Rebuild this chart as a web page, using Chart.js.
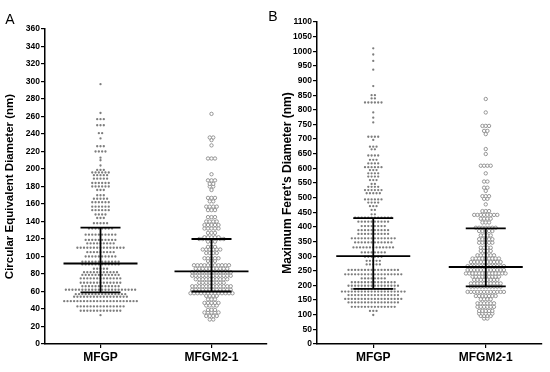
<!DOCTYPE html>
<html>
<head>
<meta charset="utf-8">
<script src="https://cdn.jsdelivr.net/npm/chart.js@4.4.1/dist/chart.umd.min.js"></script>
<style>
  body { margin: 0; background: #fff; }
  #wrap { position: relative; width: 550px; height: 372px; }
  .panel { position: absolute; top: 0; height: 372px; }
  #pa { left: 0; width: 275px; }
  #pb { left: 265px; width: 285px; }
</style>
</head>
<body>
<div id="wrap">
  <div class="panel" id="pa"><canvas id="chartA"></canvas></div>
  <div class="panel" id="pb"><canvas id="chartB"></canvas></div>
</div>
<script>
const groups = ["MFGP", "MFGM2-1"];

// panel A: circular equivalent diameter, rows of the dot plot (nm) and dots per row
const aGpLevels = [33, 38, 43, 49, 54, 57, 62, 66, 70, 75, 79, 82, 86, 91, 94, 100, 105, 110, 115, 119, 125, 132, 138, 144, 148, 153, 157, 162, 166, 170, 176, 180, 184, 189, 193, 196, 199, 204, 210, 213, 220, 226, 235, 241, 250, 257, 264, 297];
const aGpCounts = [1, 13, 15, 23, 17, 16, 22, 12, 13, 13, 12, 11, 5, 12, 12, 10, 9, 15, 9, 10, 10, 8, 5, 3, 4, 6, 6, 6, 5, 3, 3, 6, 6, 5, 5, 6, 3, 1, 1, 1, 4, 3, 1, 2, 3, 3, 1, 1];
const aM2Levels = [28, 32, 36, 39, 44, 47, 51, 55, 58, 62, 66, 70, 74, 78, 82, 86, 90, 95, 98, 104, 108, 111, 117, 120, 122, 127, 132, 136, 140, 145, 153, 157, 163, 167, 176, 180, 183, 187, 194, 212, 227, 233, 236, 263];
const aM2Counts = [2, 4, 5, 3, 4, 5, 3, 4, 13, 12, 12, 8, 10, 12, 12, 10, 11, 3, 5, 4, 6, 3, 3, 8, 5, 3, 5, 5, 4, 3, 3, 4, 2, 3, 1, 2, 2, 3, 1, 3, 1, 1, 2, 1];
const aMid = [92, 83];
const aLow = [59, 60];
const aHigh = [133, 120];

// panel B: maximum Feret's diameter
const bGpLevels = [99, 113, 127, 142, 154, 167, 179, 188, 199, 211, 224, 238, 253, 272, 284, 298, 313, 330, 347, 361, 376, 389, 403, 418, 432, 443, 458, 471, 483, 494, 515, 526, 537, 547, 560, 572, 583, 594, 604, 617, 629, 644, 665, 674, 697, 708, 757, 773, 791, 825, 839, 850, 881, 937, 967, 989, 1010];
const bGpCounts = [1, 3, 14, 16, 18, 16, 20, 14, 16, 14, 8, 18, 16, 5, 5, 6, 8, 13, 12, 14, 10, 10, 8, 10, 12, 2, 2, 3, 4, 6, 5, 6, 4, 2, 3, 4, 4, 3, 6, 4, 3, 4, 2, 3, 1, 4, 1, 1, 1, 6, 2, 2, 1, 1, 1, 1, 1];
const bM2Levels = [87, 96, 104, 113, 127, 139, 153, 164, 178, 196, 207, 219, 230, 241, 253, 266, 280, 292, 303, 318, 329, 346, 358, 371, 386, 397, 415, 428, 441, 454, 477, 496, 505, 523, 534, 555, 583, 609, 649, 666, 717, 728, 745, 791, 837];
const bM2Counts = [2, 4, 5, 5, 6, 6, 4, 7, 12, 10, 10, 8, 9, 13, 12, 12, 10, 9, 6, 4, 4, 5, 5, 4, 5, 7, 3, 4, 8, 3, 1, 2, 3, 1, 2, 2, 1, 4, 1, 1, 1, 2, 3, 1, 1];
const bMid = [300, 263];
const bLow = [188, 197];
const bHigh = [430, 395];

// spread each row sideways around the group centre, like a prism dot plot
function swarm(levels, counts, center, step) {
  const pts = [];
  levels.forEach((v, i) => {
    const n = counts[i];
    for (let k = 0; k < n; k++) {
      pts.push({ x: center + (k - (n - 1) / 2) * step, y: v });
    }
  });
  return pts;
}

const errorBars = {
  id: "errorBars",
  afterDatasetsDraw(chart, args, opts) {
    const { ctx, scales: { x, y } } = chart;
    ctx.save();
    ctx.strokeStyle = "#000";
    ctx.lineWidth = 1.8;
    opts.mid.forEach((m, i) => {
      const cx = x.getPixelForValue(i + 0.5);
      const yl = y.getPixelForValue(opts.low[i]);
      const yh = y.getPixelForValue(opts.high[i]);
      const ym = y.getPixelForValue(m);
      ctx.beginPath();
      ctx.moveTo(cx - 37, ym); ctx.lineTo(cx + 37, ym);
      ctx.moveTo(cx - 20, yl); ctx.lineTo(cx + 20, yl);
      ctx.moveTo(cx - 20, yh); ctx.lineTo(cx + 20, yh);
      ctx.moveTo(cx, yl); ctx.lineTo(cx, yh);
      ctx.stroke();
    });
    ctx.restore();
  }
};

const panelLetter = {
  id: "panelLetter",
  afterDraw(chart, args, opts) {
    const ctx = chart.ctx;
    ctx.save();
    ctx.fillStyle = "#000";
    ctx.font = "14px Arial, 'Liberation Sans', sans-serif";
    ctx.textAlign = "center";
    ctx.textBaseline = "middle";
    ctx.fillText(opts.text, opts.x, opts.y);
    ctx.restore();
  }
};

function makeChart(id, cfg) {
  return new Chart(document.getElementById(id), {
    type: "scatter",
    data: {
      datasets: [
        {
          data: swarm(cfg.gpLevels, cfg.gpCounts, 0.5, 3.3 / cfg.pxUnit),
          pointRadius: 1.15,
          pointBackgroundColor: "#7d7d7d",
          pointBorderWidth: 0,
        },
        {
          data: swarm(cfg.m2Levels, cfg.m2Counts, 1.5, cfg.m2Gap / cfg.pxUnit),
          pointRadius: 1.7,
          pointBackgroundColor: "#fff",
          pointBorderColor: "#8c8c8c",
          pointBorderWidth: 0.9,
        },
      ],
    },
    options: {
      responsive: true,
      maintainAspectRatio: false,
      animation: false,
      events: [],
      layout: { padding: { top: cfg.top, right: 8, left: 0, bottom: 0 } },
      plugins: {
        legend: { display: false },
        tooltip: { enabled: false },
        errorBars: { mid: cfg.mid, low: cfg.low, high: cfg.high },
        panelLetter: cfg.letter,
      },
      scales: {
        x: {
          type: "linear",
          min: 0,
          max: 2,
          afterBuildTicks: (s) => { s.ticks = [{ value: 0.5 }, { value: 1.5 }]; },
          afterFit: (s) => { s.height = 28; },
          ticks: {
            callback: (v) => groups[Math.round(v - 0.5)],
            color: "#000",
            font: { family: "Arial, 'Liberation Sans', sans-serif", size: 12, weight: "bold" },
            padding: 2,
          },
          grid: { drawOnChartArea: false, color: "#000", tickLength: 4, lineWidth: 1.2 },
          border: { color: "#000", width: 1.5 },
        },
        y: {
          min: 0,
          max: cfg.max,
          afterFit: (s) => { s.width = cfg.yWidth; },
          ticks: {
            stepSize: cfg.step,
            callback: (v) => String(v),
            color: "#000",
            font: { family: "Arial, 'Liberation Sans', sans-serif", size: 8.5, weight: "bold" },
            padding: 1,
          },
          grid: { drawOnChartArea: false, color: "#000", tickLength: 4, lineWidth: 1.2 },
          border: { color: "#000", width: 1.5 },
          title: {
            display: true,
            text: cfg.title,
            color: "#000",
            font: { family: "Arial, 'Liberation Sans', sans-serif", size: cfg.titleSize, weight: "bold" },
            padding: { top: cfg.titlePad, bottom: 0 },
          },
        },
      },
    },
    plugins: [errorBars, panelLetter],
  });
}

makeChart("chartA", {
  gpLevels: aGpLevels, gpCounts: aGpCounts, m2Levels: aM2Levels, m2Counts: aM2Counts,
  mid: aMid, low: aLow, high: aHigh, m2Gap: 3.5,
  max: 360, step: 20, top: 29, yWidth: 45, titlePad: 3, titleSize: 11.5, pxUnit: 111,
  title: "Circular Equivalent Diameter (nm)",
  letter: { text: "A", x: 10, y: 20 },
});

makeChart("chartB", {
  gpLevels: bGpLevels, gpCounts: bGpCounts, m2Levels: bM2Levels, m2Counts: bM2Counts,
  mid: bMid, low: bLow, high: bHigh, m2Gap: 3.3,
  max: 1100, step: 50, top: 22, yWidth: 52, titlePad: 15, titleSize: 12, pxUnit: 112.5,
  title: "Maximum Feret's Diameter (nm)",
  letter: { text: "B", x: 8, y: 17 },
});
</script>
</body>
</html>
